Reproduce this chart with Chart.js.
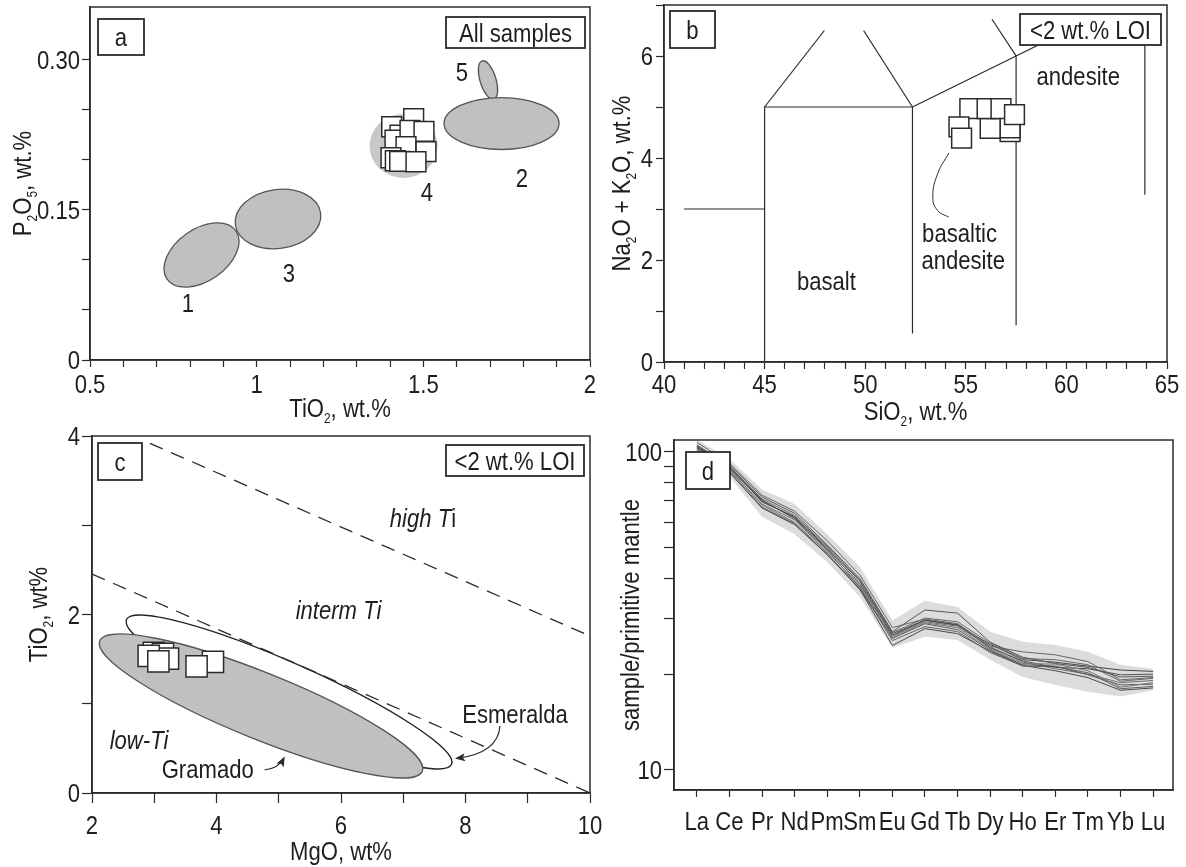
<!DOCTYPE html>
<html>
<head>
<meta charset="utf-8">
<script src="https://cdn.jsdelivr.net/npm/chart.js@4.4.0/dist/chart.umd.min.js"></script>
<style>
  html, body { margin: 0; background: #fff; }
  #wrap { position: relative; width: 1186px; height: 867px; overflow: hidden; background: #fff; }
  #wrap canvas { position: absolute; }
</style>
</head>
<body>
<div id="wrap">
  <canvas id="pa"></canvas>
  <canvas id="pb"></canvas>
  <canvas id="pc"></canvas>
  <canvas id="pd"></canvas>
</div>
<script>
// ---- panel a: P2O5 vs TiO2 ----
const aTiO2 = [1.405, 1.471, 1.430, 1.487, 1.415, 1.460, 1.502, 1.448, 1.508, 1.403, 1.416, 1.429, 1.478];
const aP2O5 = [0.2326, 0.2406, 0.2243, 0.2226, 0.2193, 0.2290, 0.2280, 0.2127, 0.2077, 0.2017, 0.1987, 0.1981, 0.1977];
const aFields = ['5', '2', '1', '3', '4'];
const aFieldX = [1.694, 1.7346, 0.8345, 1.064, 1.4406];
const aFieldY = [0.2792, 0.2358, 0.1047, 0.1406, 0.2134];
const aFieldRx = [0.024, 0.1725, 0.126, 0.129, 0.102];
const aFieldRy = [0.0199, 0.0259, 0.0259, 0.0294, 0.0319];
const aFieldTilt = [-17, 0, -35, -8, 0];
const aLabelX = [1.616, 1.796, 0.794, 1.097, 1.511];
const aLabelY = [0.288, 0.1815, 0.0568, 0.0867, 0.1675];

// ---- panel b: TAS ----
const bSiO2 = [57.2, 57.2, 56.21, 55.2, 56.06, 56.75, 57.42, 54.66, 54.79];
const bAlkali = [4.52, 4.59, 4.58, 4.97, 4.97, 4.97, 4.85, 4.61, 4.39];
const tasLines = [
  [[41, 3], [45, 3]],
  [[45, 0], [45, 5], [52.35, 5], [52.35, 0.56]],
  [[45, 5], [47.97, 6.5]],
  [[52.35, 5], [49.92, 6.5]],
  [[52.35, 5], [57.5, 6], [59.5, 6.39]],
  [[57.5, 0.72], [57.5, 6], [56.3, 6.72]],
  [[63.9, 3.28], [63.9, 6.6]]
];
const bLeader = [[54.16, 4.10], [53.6, 3.69], [53.36, 3.23], [53.6, 2.97], [54.16, 2.84]];

// ---- panel c: TiO2 vs MgO ----
const cMgO = [3.943, 2.994, 3.14, 3.221, 2.911, 3.066, 3.68];
const cTiO2 = [1.47, 1.57, 1.559, 1.506, 1.536, 1.475, 1.419];
const cBoundaries = [
  [[2.93, 3.918], [10, 1.759]],
  [[2, 2.454], [10, 0]]
];
const cFields = ['Esmeralda', 'Gramado'];
const cFieldX = [5.165, 4.715];
const cFieldY = [1.132, 0.975];
const cFieldRx = [2.859, 2.795];
const cFieldRy = [0.32, 0.37];
const cFieldTilt = [24, 22];

// ---- panel d: REE / primitive mantle ----
const elements = ['La', 'Ce', 'Pr', 'Nd', 'Pm', 'Sm', 'Eu', 'Gd', 'Tb', 'Dy', 'Ho', 'Er', 'Tm', 'Yb', 'Lu'];
const reeSamples = [
  [104, 91, 72, 64, 51, 40, 27.2, 31.8, 31.1, 25.2, 22.6, 21.6, 21.0, 19.6, 19.7],
  [107, 92, 73, 65, 52.5, 41, 28.0, 29.8, 28.8, 24.5, 23.5, 23.0, 21.9, 19.2, 19.5],
  [103, 89, 70, 62, 49.5, 38.5, 26.5, 29.5, 28.5, 24.8, 22.2, 21.8, 21.2, 20.6, 20.4],
  [102, 88, 68.5, 61, 48.5, 38, 26.0, 29.0, 28.0, 24.0, 21.6, 21.5, 20.5, 18.2, 18.8],
  [105, 90, 69.5, 62.5, 50, 39.2, 26.8, 29.6, 28.6, 24.2, 22.0, 21.0, 20.8, 19.9, 20.0],
  [101, 87, 67, 59.5, 47.5, 37.5, 25.5, 28.2, 27.2, 23.4, 21.2, 21.1, 20.2, 18.0, 18.3],
  [100, 86, 66.5, 59, 47.5, 37, 24.6, 27.8, 26.8, 23.6, 21.3, 20.5, 19.5, 17.8, 18.1],
  [103, 90, 71, 63, 50.5, 39.5, 27.0, 30.0, 29.2, 25.0, 22.4, 22.2, 21.4, 19.0, 19.4],
  [104, 89, 70.5, 61.5, 49, 37.5, 25.9, 28.8, 27.6, 23.8, 21.4, 21.2, 19.9, 18.5, 18.6],
  [102, 88, 68, 60, 48, 36.8, 26.3, 29.2, 28.3, 24.4, 21.8, 20.8, 20.0, 18.8, 19.1]
];
const reeUpper = [109, 95, 76, 68.5, 55, 43.5, 29.5, 34, 32.5, 27.2, 25.3, 24.7, 23.5, 21.4, 20.8];
const reeLower = [99, 83.5, 62.5, 55, 45, 35, 24.2, 26.2, 25.6, 22.2, 19.6, 18.5, 17.6, 17.0, 17.8];
const dTicks = [10, 20, 30, 40, 50, 60, 70, 80, 90, 100];

const FONT = '"Liberation Sans", Arial, sans-serif';
const FS = 26;     // text size
const SX = 0.85;   // narrow the glyphs, the figure uses a condensed face
const INK = '#2b2b2b';
const TXT = '#1e1e1e';
const YW = 100, XH = 70, PAD = 24;

Chart.defaults.font.family = FONT;
Chart.defaults.animation = false;

// text with subscripts / italics; align 'center' or 'right'
function drawRich(ctx, parts, x, y, size, rot, align) {
  ctx.save();
  ctx.translate(x, y);
  if (rot) ctx.rotate(rot);
  ctx.scale(SX, 1);
  ctx.fillStyle = TXT;
  ctx.textBaseline = 'alphabetic';
  ctx.textAlign = 'left';
  const fontOf = s => (s === 'i' ? 'italic ' : '') + (s === 's' ? Math.round(size * 0.55) : size) + 'px ' + FONT;
  let w = 0;
  parts.forEach(([t, s]) => { ctx.font = fontOf(s); w += ctx.measureText(t).width; });
  let cx = align === 'right' ? -w : -w / 2;
  const base = size * 0.36;
  parts.forEach(([t, s]) => {
    ctx.font = fontOf(s);
    ctx.fillText(t, cx, s === 's' ? base + size * 0.2 : base);
    cx += ctx.measureText(t).width;
  });
  ctx.restore();
}

const deco = {
  id: 'deco',
  beforeDatasetsDraw(chart, args, o) {
    const {ctx, scales: {x, y}} = chart;
    (o.ellipses || []).forEach(e => {
      const cx = x.getPixelForValue(e.x), cy = y.getPixelForValue(e.y);
      const rx = Math.abs(x.getPixelForValue(e.x + e.rx) - cx);
      const ry = Math.abs(y.getPixelForValue(e.y + e.ry) - cy);
      ctx.save();
      ctx.beginPath();
      ctx.ellipse(cx, cy, rx, ry, e.tilt * Math.PI / 180, 0, Math.PI * 2);
      ctx.fillStyle = e.fill;
      ctx.fill();
      if (e.stroke) { ctx.strokeStyle = e.stroke; ctx.lineWidth = 1.3; ctx.stroke(); }
      ctx.restore();
    });
  },
  afterDatasetsDraw(chart, args, o) {
    const {ctx, chartArea: ca, scales: {x, y}} = chart;
    // frame
    ctx.save();
    ctx.strokeStyle = INK;
    ctx.lineWidth = 1.5;
    ctx.strokeRect(ca.left, ca.top, ca.right - ca.left, ca.bottom - ca.top);
    ctx.restore();
    // tick labels
    x.ticks.forEach((t, i) => {
      const lbl = x.options.ticks.callback.call(x, t.value, i, x.ticks);
      if (lbl) drawRich(ctx, [[lbl, 'n']], x.getPixelForValue(t.value), ca.bottom + o.tickText.x, FS, 0);
    });
    y.ticks.forEach((t, i) => {
      const lbl = y.options.ticks.callback.call(y, t.value, i, y.ticks);
      if (lbl) drawRich(ctx, [[lbl, 'n']], ca.left - o.tickText.y, y.getPixelForValue(t.value), FS, 0, 'right');
    });
    // arrows
    (o.arrows || []).forEach(a => {
      const p = a.map(([vx, vy]) => [x.getPixelForValue(vx), y.getPixelForValue(vy)]);
      ctx.save();
      ctx.strokeStyle = INK; ctx.fillStyle = INK; ctx.lineWidth = 1.2;
      ctx.beginPath();
      ctx.moveTo(p[0][0], p[0][1]);
      ctx.quadraticCurveTo(p[1][0], p[1][1], p[2][0], p[2][1]);
      ctx.stroke();
      const ang = Math.atan2(p[2][1] - p[1][1], p[2][0] - p[1][0]);
      ctx.translate(p[2][0], p[2][1]);
      ctx.rotate(ang);
      ctx.beginPath();
      ctx.moveTo(2, 0); ctx.lineTo(-8, -4); ctx.lineTo(-6, 0); ctx.lineTo(-8, 4);
      ctx.closePath(); ctx.fill();
      ctx.restore();
    });
    // labels inside plot
    (o.texts || []).forEach(t => {
      drawRich(ctx, t.parts, x.getPixelForValue(t.x), y.getPixelForValue(t.y), t.size || FS, 0);
    });
    // boxed labels
    (o.boxes || []).forEach(b => {
      const bx = ca.left + b.dx, by = ca.top + b.dy;
      ctx.save();
      ctx.fillStyle = '#fff';
      ctx.fillRect(bx, by, b.w, b.h);
      ctx.strokeStyle = INK; ctx.lineWidth = 1.8;
      ctx.strokeRect(bx, by, b.w, b.h);
      ctx.restore();
      drawRich(ctx, [[b.text, 'n']], bx + b.w / 2, by + b.h / 2, b.size || FS, 0);
    });
    // axis titles
    (o.titles || []).forEach(t => {
      if (t.side === 'x') drawRich(ctx, t.parts, (ca.left + ca.right) / 2, ca.bottom + t.off, FS, 0);
      else drawRich(ctx, t.parts, ca.left - t.off, (ca.top + ca.bottom) / 2, FS, -Math.PI / 2);
    });
  }
};
Chart.register(deco);

function place(id, A) {
  const cv = document.getElementById(id);
  cv.width = A.r - A.l + YW + 2 * PAD;
  cv.height = A.b - A.t + XH + 2 * PAD;
  cv.style.left = (A.l - YW - PAD) + 'px';
  cv.style.top = (A.t - PAD) + 'px';
  return cv;
}

function xAxis(min, max, tick) {
  return {
    type: 'linear', position: 'bottom', min, max,
    border: {display: true, color: INK, width: 1.5},
    grid: {drawOnChartArea: false, drawTicks: true, tickLength: tick.len || 8, tickColor: INK, tickWidth: 1.2},
    ticks: {display: false, includeBounds: false, autoSkip: false, stepSize: tick.step, callback: tick.label},
    afterBuildTicks: tick.build,
    afterFit: s => { s.height = XH; }
  };
}
function yAxis(min, max, tick) {
  return {
    type: tick.type || 'linear', position: 'left', min, max,
    border: {display: true, color: INK, width: 1.5},
    grid: {drawOnChartArea: false, drawTicks: true, tickLength: tick.len || 8, tickColor: INK, tickWidth: 1.2},
    ticks: {display: false, includeBounds: false, autoSkip: false, stepSize: tick.step, callback: tick.label},
    afterBuildTicks: tick.build,
    afterFit: s => { s.width = YW; }
  };
}

function baseOptions(scales, decoOpts) {
  return {
    responsive: false, animation: false, events: [],
    layout: {padding: {left: PAD, right: PAD, top: PAD, bottom: PAD}},
    scales,
    plugins: {legend: {display: false}, tooltip: {enabled: false}, deco: decoOpts}
  };
}

const pts = (xs, ys) => xs.map((v, i) => ({x: v, y: ys[i]}));
const squares = (data, r) => ({
  data, showLine: false, pointStyle: 'rect', pointRadius: r, pointHoverRadius: r,
  pointBackgroundColor: '#fff', pointBorderColor: INK, pointBorderWidth: 1.5
});
const polyline = (p, extra) => Object.assign({
  data: p.map(([vx, vy]) => ({x: vx, y: vy})), showLine: true, pointRadius: 0,
  borderColor: INK, borderWidth: 1.2, tension: 0, fill: false
}, extra || {});

// ---------- panel a ----------
const A = {l: 90, t: 7, r: 590, b: 360};
new Chart(place('pa', A), {
  type: 'scatter',
  data: {datasets: [squares(pts(aTiO2, aP2O5), 14)]},
  options: baseOptions({
    x: xAxis(0.5, 2, {step: 0.1, len: 7, label: v => { const k = Math.round(v * 10); return k % 5 === 0 ? String(k / 10) : ''; }}),
    y: yAxis(0, 0.352, {step: 0.05,
      build: s => { s.ticks = s.ticks.filter(t => t.value <= 0.3001); },
      label: v => { const k = Math.round(v * 100); return k % 15 === 0 ? (k === 0 ? '0' : (k / 100).toFixed(2)) : ''; }})
  }, {
    tickText: {x: 24, y: 10},
    ellipses: aFields.map((n, i) => ({x: aFieldX[i], y: aFieldY[i], rx: aFieldRx[i], ry: aFieldRy[i], tilt: aFieldTilt[i],
      fill: n === '4' ? '#c8c8c8' : '#c0c0c0', stroke: n === '4' ? null : '#555'})),
    texts: aFields.map((n, i) => ({x: aLabelX[i], y: aLabelY[i], parts: [[n, 'n']]})),
    boxes: [{dx: 8, dy: 12, w: 46, h: 36, text: 'a'}, {dx: 356, dy: 10, w: 139, h: 31, text: 'All samples'}],
    titles: [
      {side: 'x', off: 48, parts: [['TiO', 'n'], ['2', 's'], [', wt.%', 'n']]},
      {side: 'y', off: 68, parts: [['P', 'n'], ['2', 's'], ['O', 'n'], ['5', 's'], [', wt.%', 'n']]}
    ]
  })
});

// ---------- panel b ----------
const B = {l: 664, t: 5, r: 1167, b: 362};
new Chart(place('pb', B), {
  type: 'scatter',
  data: {datasets: [
    squares(pts(bSiO2, bAlkali), 14),
    polyline(bLeader, {tension: 0.45, borderWidth: 1}),
    ...tasLines.map(l => polyline(l))
  ]},
  options: baseOptions({
    x: xAxis(40, 65, {step: 1, len: 7, label: v => v % 5 === 0 ? String(v) : ''}),
    y: yAxis(0, 7, {step: 1, label: v => v % 2 === 0 ? String(v) : ''})
  }, {
    tickText: {x: 22, y: 11},
    texts: [
      {x: 60.59, y: 5.62, parts: [['andesite', 'n']]},
      {x: 54.69, y: 2.53, parts: [['basaltic', 'n']]},
      {x: 54.87, y: 2.01, parts: [['andesite', 'n']]},
      {x: 48.07, y: 1.60, parts: [['basalt', 'n']]}
    ],
    boxes: [{dx: 6, dy: 6, w: 45, h: 37, text: 'b'}, {dx: 356, dy: 9, w: 141, h: 31, text: '<2 wt.% LOI'}],
    titles: [
      {side: 'x', off: 49, parts: [['SiO', 'n'], ['2', 's'], [', wt.%', 'n']]},
      {side: 'y', off: 43, parts: [['Na', 'n'], ['2', 's'], ['O + K', 'n'], ['2', 's'], ['O, wt.%', 'n']]}
    ]
  })
});

// ---------- panel c ----------
const C = {l: 92, t: 436, r: 590, b: 793};
new Chart(place('pc', C), {
  type: 'scatter',
  data: {datasets: [
    squares(pts(cMgO, cTiO2), 15),
    ...cBoundaries.map(l => polyline(l, {borderDash: [14, 9], borderWidth: 1.3}))
  ]},
  options: baseOptions({
    x: xAxis(2, 10, {step: 1, len: 10, label: v => v % 2 === 0 ? String(v) : ''}),
    y: yAxis(0, 4, {step: 1, len: 10, label: v => v % 2 === 0 ? String(v) : ''})
  }, {
    tickText: {x: 32, y: 12},
    ellipses: cFields.map((n, i) => ({x: cFieldX[i], y: cFieldY[i], rx: cFieldRx[i], ry: cFieldRy[i], tilt: cFieldTilt[i],
      fill: n === 'Gramado' ? '#c0c0c0' : '#fff', stroke: n === 'Gramado' ? '#555' : '#222'})),
    arrows: [
      [[4.772, 0.258], [5.0, 0.277], [5.081, 0.389]],
      [[8.554, 0.751], [8.522, 0.445], [7.863, 0.389]]
    ],
    texts: [
      {x: 7.317, y: 3.09, parts: [['high T', 'i'], ['i', 'n']]},
      {x: 5.96, y: 2.058, parts: [['interm Ti', 'i']]},
      {x: 2.755, y: 0.594, parts: [['low-Ti', 'i']]},
      {x: 3.859, y: 0.277, parts: [['Gramado', 'n']]},
      {x: 8.795, y: 0.893, parts: [['Esmeralda', 'n']]}
    ],
    boxes: [{dx: 6, dy: 7, w: 44, h: 37, text: 'c'}, {dx: 354, dy: 9, w: 138, h: 31, text: '<2 wt.% LOI'}],
    titles: [
      {side: 'x', off: 58, parts: [['MgO, wt%', 'n']]},
      {side: 'y', off: 54, parts: [['TiO', 'n'], ['2', 's'], [', wt%', 'n']]}
    ]
  })
});

// ---------- panel d ----------
const D = {l: 674, t: 440, r: 1173, b: 790};
const lineGreys = ['#555', '#666', '#444', '#777', '#505050', '#606060', '#484848', '#6a6a6a', '#5a5a5a', '#707070'];
const reePts = vals => vals.map((v, i) => ({x: i, y: v}));
new Chart(place('pd', D), {
  type: 'scatter',
  data: {datasets: [
    ...reeSamples.map((s, k) => ({data: reePts(s), showLine: true, pointRadius: 0, borderColor: lineGreys[k], borderWidth: 1, tension: 0, fill: false})),
    {data: reePts(reeUpper), showLine: true, pointRadius: 0, borderColor: 'rgba(0,0,0,0)', backgroundColor: '#dcdcdc', fill: '+1'},
    {data: reePts(reeLower), showLine: true, pointRadius: 0, borderColor: 'rgba(0,0,0,0)', fill: false}
  ]},
  options: baseOptions({
    x: xAxis(-0.7, 14.61, {len: 7,
      build: s => { s.ticks = elements.map((e, i) => ({value: i})); },
      label: v => elements[v] ?? ''}),
    y: yAxis(8.65, 108.8, {type: 'logarithmic', len: 10,
      build: s => { s.ticks = dTicks.map(v => ({value: v})); },
      label: v => (v === 10 || v === 100) ? String(v) : ''})
  }, {
    tickText: {x: 31, y: 12},
    boxes: [{dx: 12, dy: 12, w: 44, h: 37, text: 'd'}],
    titles: [{side: 'y', off: 44, parts: [['sample/primitive mantle', 'n']]}]
  })
});
</script>
</body>
</html>
